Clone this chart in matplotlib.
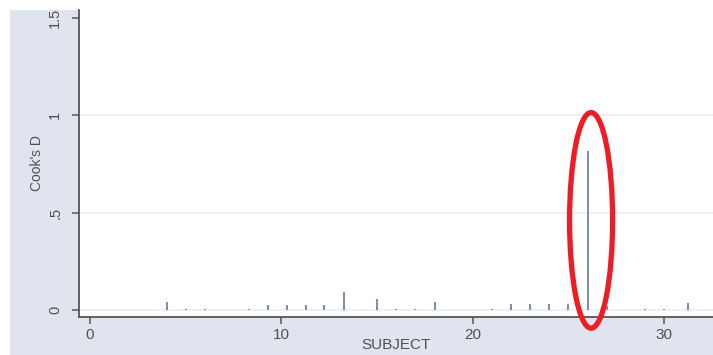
import numpy as np
import matplotlib
matplotlib.use('Agg')
import matplotlib.pyplot as plt
from matplotlib.patches import Ellipse, Rectangle

# Cook's distance per subject
subject = [4, 5, 6, 8.3, 9.3, 10.3, 11.3, 12.25, 13.25, 15, 16, 17, 18,
           21, 22, 23, 24, 25, 26, 27, 29, 30, 31.25]
cooks_d = [0.043, 0.005, 0.005, 0.004, 0.026, 0.026, 0.027, 0.027, 0.09,
           0.057, 0.004, 0.005, 0.04, 0.006, 0.03, 0.03, 0.03, 0.03,
           0.817, 0.02, 0.006, 0.006, 0.038]

x_ticks = [0, 10, 20, 30]
y_ticks = [0, 0.5, 1, 1.5]
y_ticklabels = ['0', '.5', '1', '1.5']

# influential point to highlight
flag_x, flag_y = 26.18, 0.46

W, H = 713, 355
BG = '#dfe4ef'
SPIKE = '#7c8cae'
TXT = '#505050'

plt.rcParams['font.family'] = ['Liberation Sans', 'DejaVu Sans']

fig = plt.figure(figsize=(W / 100, H / 100), dpi=100, facecolor='white')
# outer graph region (white strips remain at top and left edge)
fig.patches.append(Rectangle((10 / W, 0), 1 - 10 / W, 1 - 10 / H,
                             transform=fig.transFigure, facecolor=BG,
                             edgecolor='none', zorder=-10))

ax = fig.add_axes([79 / W, (H - 317) / H, 1 - 79 / W, (317 - 10) / H])
ax.set_zorder(1)
ax.set_facecolor('white')
ax.set_xlim(-0.575, 32.55)
ax.set_ylim(-0.036, 1.54)

for g in [0, 0.5, 1]:
    ax.axhline(g, color='#eaedf5', lw=1.2, zorder=1)

ax.vlines(subject, 0, cooks_d, color=SPIKE, lw=1.4, zorder=3)

ell = Ellipse((flag_x, flag_y), 2.25, 1.107, fill=False, edgecolor='#ee1c24',
              lw=3.8, clip_on=False, zorder=5)
ax.add_patch(ell)

for s in ['top', 'right']:
    ax.spines[s].set_visible(False)
for s in ['left', 'bottom']:
    ax.spines[s].set_color('#555555')
    ax.spines[s].set_linewidth(1.3)

ax.set_xticks(x_ticks)
ax.set_xticklabels([str(t) for t in x_ticks], fontsize=11, color=TXT)
ax.set_yticks(y_ticks)
ax.set_yticklabels(y_ticklabels, fontsize=10.5, color=TXT, rotation=90, va='center')
ax.tick_params(axis='both', direction='out', length=5, width=1.1, color='#555555')
ax.tick_params(axis='y', pad=7)
ax.tick_params(axis='x', pad=3)

ax.set_xlabel('SUBJECT', fontsize=11, color=TXT, labelpad=-3)
ax.set_ylabel("Cook's D", fontsize=10, color=TXT, labelpad=3)

fig.savefig('out.png', dpi=100, facecolor=fig.get_facecolor())
